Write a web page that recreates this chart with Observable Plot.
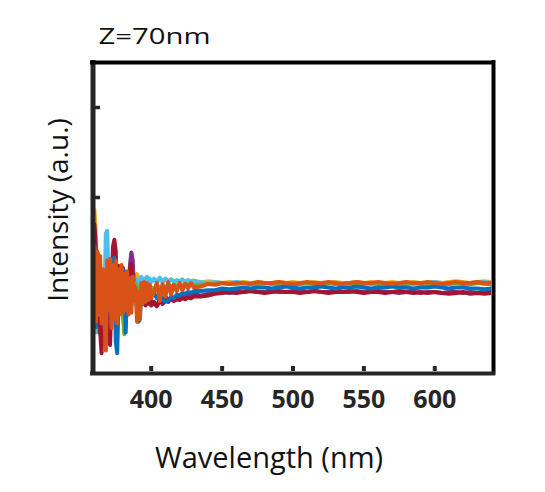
<!DOCTYPE html>
<html>
<head>
<meta charset="utf-8">
<script src="https://cdn.jsdelivr.net/npm/d3@7"></script>
<script src="https://cdn.jsdelivr.net/npm/@observablehq/plot@0.6"></script>
<style>
  html, body { margin: 0; padding: 0; background: #fff; }
  #chart { width: 545px; height: 492px; }
</style>
</head>
<body>
<div id="chart"></div>
<script>
// ---- data ----
const titleText = "Z=70nm";
const xLabel = "Wavelength (nm)";
const yLabel = "Intensity (a.u.)";
const xTicks = [400, 450, 500, 550, 600];
const yTicks = [1, 2, 3];

const wavelengths = [
  360,361,362,363,364,365,366,367,368,369,370,371,372,373,374,375,376,377,378,379,
  380,381,382,383,384,385,386,387,388,389,390,391,392,393,394,395,396,397,398,399,400,
  402,404,406,408,410,412,414,416,418,420,422,424,426,428,430,
  435,440,445,450,455,460,
  465,470,475,480,485,490,495,500,505,510,515,520,
  525,530,535,540,545,550,555,560,565,570,575,580,
  585,590,595,600,605,610,615,620,625,630,635,640
];

const yellow = [
  1.86,1.6,1.0,1.25,0.9,1.15,0.95,1.2,1.0,1.15,0.9,1.1,1.0,1.2,0.95,1.1,1.0,1.15,0.95,1.1,
  1.0,1.1,1.05,1.1,1.0,1.08,1.0,1.1,1.05,1.12,1.15,1.1,1.05,1.1,1.04,1.09,1.05,1.1,1.06,1.09,1.07,
  1.09,1.07,1.1,1.07,1.08,1.07,1.09,1.07,1.08,1.07,1.08,1.07,1.08,1.07,1.08,
  1.05,1.07,1.06,1.05,1.06,1.05,
  1.06,1.05,1.06,1.05,1.05,1.06,1.05,1.06,1.05,1.05,1.06,1.05,
  1.05,1.06,1.05,1.05,1.06,1.05,1.06,1.05,1.05,1.06,1.05,1.05,
  1.06,1.05,1.05,1.06,1.05,1.06,1.07,1.06,1.05,1.06,1.07,1.06
];
const lightBlue = [
  1.58,0.5,1.1,0.52,1.2,0.8,1.1,0.9,1.6,1.63,1.0,1.2,0.8,1.15,0.9,1.2,0.85,1.1,0.9,1.15,
  0.95,1.1,0.9,1.05,0.95,1.1,0.95,1.05,1.0,1.1,0.95,1.08,1.0,1.12,1.05,1.1,1.02,1.12,1.04,1.1,1.06,
  1.1,1.05,1.11,1.06,1.1,1.07,1.09,1.06,1.08,1.07,1.09,1.06,1.08,1.07,1.07,
  1.06,1.05,1.06,1.05,1.05,1.06,
  1.05,1.05,1.04,1.05,1.05,1.04,1.05,1.05,1.04,1.05,1.05,1.04,
  1.05,1.04,1.05,1.05,1.04,1.05,1.04,1.05,1.05,1.04,1.05,1.05,
  1.04,1.05,1.05,1.06,1.05,1.04,1.05,1.05,1.04,1.05,1.06,1.05
];
const purple = [
  1.63,1.1,0.8,1.2,0.75,1.1,0.85,1.05,0.8,1.1,0.9,1.0,0.85,1.1,0.9,1.0,0.85,1.05,0.9,1.0,
  0.88,1.05,0.92,1.0,0.95,1.25,1.39,1.3,0.9,1.0,0.85,0.95,0.88,0.95,0.9,0.93,0.88,0.92,0.86,0.9,0.85,
  0.82,0.79,0.86,0.82,0.9,0.86,0.88,0.87,0.9,0.89,0.92,0.9,0.92,0.91,0.93,
  0.91,0.93,0.94,0.95,0.94,0.95,
  0.95,0.96,0.95,0.95,0.96,0.95,0.95,0.96,0.95,0.95,0.96,0.95,
  0.95,0.96,0.95,0.95,0.96,0.95,0.95,0.96,0.95,0.95,0.94,0.95,
  0.95,0.94,0.95,0.95,0.94,0.95,0.95,0.94,0.95,0.94,0.95,0.95
];
const green = [
  1.5,1.2,0.8,0.5,1.1,0.9,1.2,0.8,1.1,0.9,1.15,0.85,1.1,0.9,1.1,0.85,1.05,0.9,1.15,0.95,
  0.7,0.48,0.9,1.05,0.95,1.05,0.95,1.0,0.95,1.05,0.95,1.0,0.97,1.03,0.96,1.02,0.98,1.02,0.98,1.02,1.0,
  0.98,1.03,0.99,1.02,1.0,1.03,1.01,1.03,1.02,1.03,1.02,1.04,1.03,1.04,1.03,
  1.03,1.04,1.04,1.05,1.04,1.04,
  1.05,1.04,1.04,1.05,1.04,1.04,1.05,1.04,1.04,1.05,1.04,1.04,
  1.05,1.04,1.04,1.05,1.04,1.04,1.05,1.04,1.04,1.05,1.04,1.04,
  1.05,1.04,1.04,1.05,1.04,1.04,1.05,1.04,1.04,1.05,1.04,1.04
];
const darkRed = [
  1.7,1.42,1.35,0.8,0.5,0.27,0.9,1.1,0.7,1.05,0.5,0.36,0.9,1.45,1.53,1.4,0.8,1.24,1.2,0.75,
  1.22,0.8,1.0,0.75,0.95,1.2,1.26,1.1,0.85,0.95,0.82,0.92,0.8,0.9,0.82,0.9,0.8,0.88,0.82,0.86,0.8,
  0.84,0.8,0.86,0.82,0.86,0.84,0.88,0.85,0.87,0.86,0.88,0.87,0.89,0.88,0.9,
  0.9,0.91,0.93,0.94,0.95,0.94,
  0.95,0.96,0.95,0.94,0.95,0.96,0.95,0.95,0.94,0.95,0.96,0.95,
  0.94,0.95,0.95,0.96,0.95,0.94,0.95,0.95,0.94,0.95,0.96,0.95,
  0.94,0.95,0.94,0.95,0.94,0.93,0.94,0.95,0.93,0.94,0.93,0.94
];
const blue = [
  1.47,0.56,1.39,1.3,0.7,1.1,0.6,1.0,0.5,1.1,0.8,1.0,0.7,1.3,1.33,0.4,0.27,0.9,1.0,0.8,
  1.2,1.18,0.5,1.0,0.85,1.1,0.8,1.0,0.85,0.95,0.75,0.62,0.65,0.95,0.85,0.95,0.86,0.95,0.88,0.94,0.9,
  0.94,0.88,0.93,0.86,0.84,0.85,0.9,0.88,0.92,0.91,0.94,0.93,0.95,0.94,0.96,
  0.96,0.97,0.97,0.99,0.98,0.99,
  1.0,0.99,1.0,1.0,0.99,1.0,1.01,1.0,0.99,1.0,1.0,1.01,
  1.0,0.99,1.0,1.0,1.01,1.0,0.99,1.0,1.0,1.01,1.0,1.0,
  0.99,1.0,1.0,1.01,1.0,0.99,1.0,1.0,0.99,0.99,0.98,0.99
];
const orange = [
  1.45,0.62,1.4,0.7,1.35,0.6,1.2,0.65,0.3,1.3,0.75,1.32,0.55,1.25,0.65,1.3,0.6,1.2,0.7,1.25,
  0.72,1.15,0.75,1.18,0.7,1.1,0.72,1.12,0.85,1.0,0.62,0.95,0.65,1.05,0.82,1.06,0.84,1.05,0.86,1.03,0.88,
  0.95,1.05,0.85,1.04,0.9,1.06,0.92,1.03,0.96,1.05,0.97,1.04,0.99,1.05,1.0,
  1.01,1.04,1.03,1.05,1.04,1.05,
  1.05,1.04,1.06,1.05,1.05,1.06,1.05,1.04,1.05,1.06,1.05,1.05,
  1.06,1.05,1.04,1.05,1.06,1.05,1.05,1.06,1.05,1.04,1.05,1.06,
  1.05,1.05,1.06,1.05,1.04,1.05,1.06,1.05,1.05,1.06,1.05,1.05
];

const seriesNames = ["yellow", "lightBlue", "purple", "green", "darkRed", "blue", "orange"];
const seriesValues = [yellow, lightBlue, purple, green, darkRed, blue, orange];
const seriesColors = ["#EDB120", "#4DBEEE", "#7E2F8E", "#77AC30", "#A2142F", "#0072BD", "#D95319"];

seriesValues.forEach((vals, k) => {
  if (vals.length !== wavelengths.length)
    throw new Error(`series ${seriesNames[k]} has ${vals.length} values, expected ${wavelengths.length}`);
});

// ---- chart ----
const W = 545, H = 492;
const mL = 94, mR = 54, mT = 64, mB = 121;
const axisColor = "#262626";

const lineMarks = seriesValues.map((vals, k) =>
  Plot.line(wavelengths.map((w, i) => ({w, v: vals[i], s: seriesNames[k]})), {
    x: "w", y: "v", stroke: seriesColors[k], strokeWidth: 4,
    strokeLinejoin: "round", clip: true
  })
);

const chart = Plot.plot({
  width: W, height: H,
  marginLeft: mL, marginRight: mR, marginTop: mT, marginBottom: mB,
  style: {fontFamily: "'Open Sans', 'Noto Sans', sans-serif", background: "#fff"},
  x: {domain: [360, 640], axis: null},
  y: {domain: [1 - 84/90, 1 + 223/90], axis: null},
  marks: [
    // inward tick marks
    Plot.ruleY(yTicks, {stroke: axisColor, strokeWidth: 3.5, insetRight: (W - mL - mR) - 6}),
    Plot.ruleX(xTicks, {stroke: axisColor, strokeWidth: 4, insetTop: (H - mT - mB) - 5}),
    ...lineMarks,
    // box
    Plot.ruleX([360], {stroke: axisColor, strokeWidth: 5, dx: -1.5, insetTop: -4, insetBottom: -4}),
    Plot.ruleX([640], {stroke: "#000", strokeWidth: 4, dx: 2, insetTop: -4, insetBottom: -4}),
    Plot.ruleY([1 + 223/90], {stroke: "#000", strokeWidth: 4, dy: -2, insetLeft: -4, insetRight: -4}),
    Plot.ruleY([1 - 84/90], {stroke: axisColor, strokeWidth: 4, dy: 2, insetLeft: -4, insetRight: -4}),
    // tick labels
    Plot.text(xTicks, {x: d => d, frameAnchor: "bottom", lineAnchor: "middle", dy: 28, fontSize: 25, fontWeight: "bold",
      fill: axisColor, textAnchor: "middle", text: d => String(d)}),
    // axis labels
    Plot.text([xLabel], {frameAnchor: "bottom", lineAnchor: "middle", dx: -24, dy: 87, fontSize: 29, fill: "#111", text: d => d}),
    Plot.text([yLabel], {frameAnchor: "left", lineAnchor: "middle", rotate: -90, dx: -35, dy: -8, fontSize: 28, fill: "#111", text: d => d, textAnchor: "middle"}),
    // title
    Plot.text([titleText], {frameAnchor: "top-left", lineAnchor: "middle", textAnchor: "start", dx: 4, dy: -28, fontSize: 22, fill: "#111", text: d => d})
  ]
});

d3.select(chart).selectAll("text").filter(function() { return this.textContent === titleText; })
  .attr("textLength", 112).attr("lengthAdjust", "spacingAndGlyphs");

document.getElementById("chart").appendChild(chart);
</script>
</body>
</html>
